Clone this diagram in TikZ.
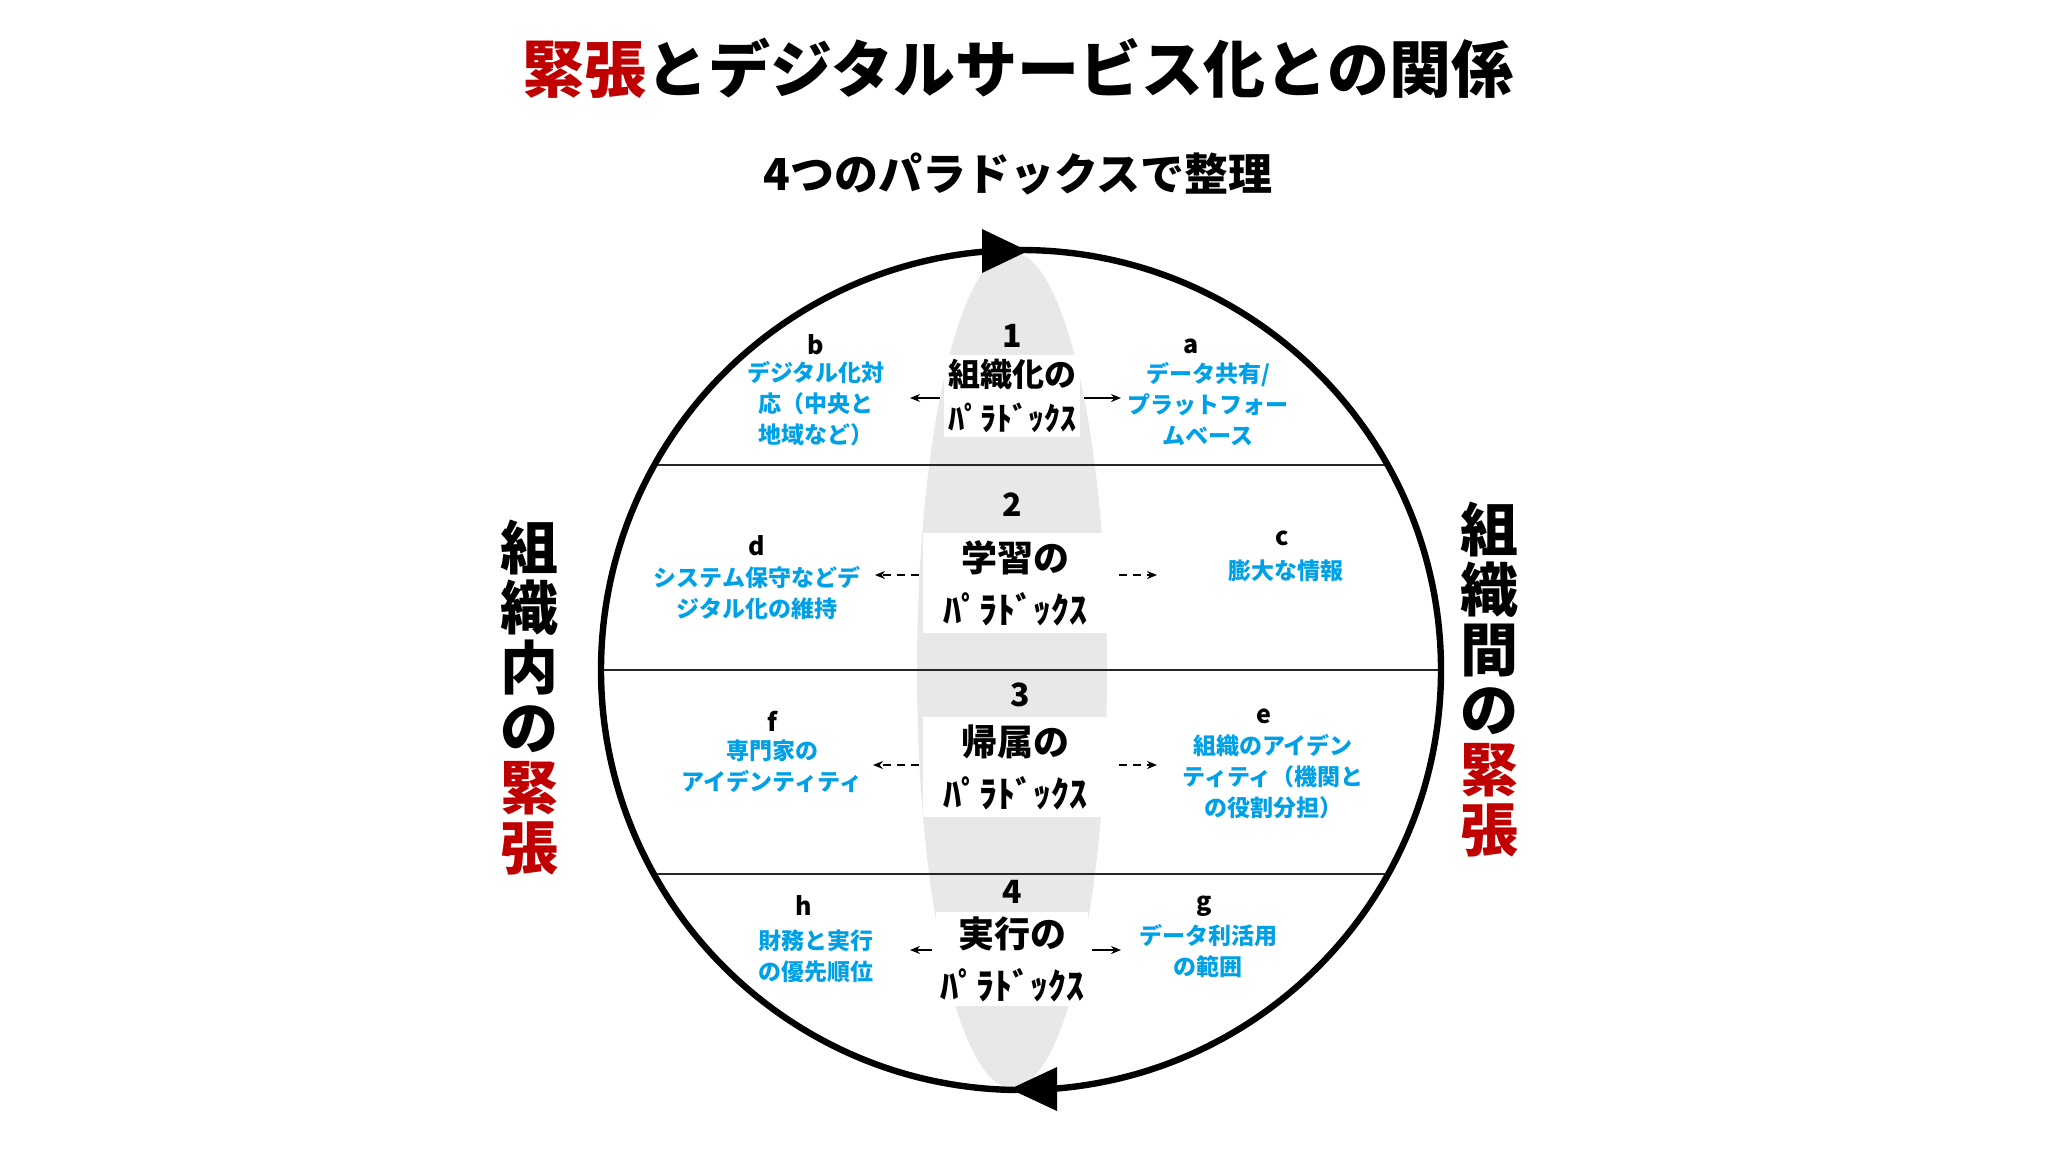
\documentclass[tikz,border=0pt]{standalone}
\usepackage{fontspec}
\newfontfamily\jp{Noto Sans CJK JP}
\usetikzlibrary{arrows.meta}
\definecolor{blu}{RGB}{0,160,230}
\definecolor{rd}{RGB}{192,0,0}
\tikzset{
 bl/.style={font=\jp\bfseries\fontsize{11.5pt}{15.5pt}\selectfont, text=blu, align=center, inner sep=1pt},
 let/.style={font=\jp\bfseries\fontsize{12.5pt}{13pt}\selectfont, inner sep=0pt},
 num/.style={font=\jp\bfseries\fontsize{16pt}{18pt}\selectfont, inner sep=0pt},
 box/.style={fill=white, align=center, inner sep=2pt, font=\jp\bfseries\fontsize{16pt}{22pt}\selectfont},
 ar/.style={-{Stealth[length=5pt,width=4pt]}, line width=0.8pt},
 dar/.style={ar, dash pattern=on 4pt off 3pt},
 side/.style={font=\jp\bfseries\fontsize{29pt}{30pt}\selectfont, align=center, inner sep=0pt}
}
\begin{document}
\begin{tikzpicture}[x=0.5pt,y=-0.5pt]
\useasboundingbox (0,0) rectangle (2048,1152);
% titles
\node[font=\jp\bfseries\fontsize{31pt}{34pt}\selectfont] (title) at (1018,68) {\textcolor{rd}{緊張}とデジタルサービス化との関係};
\node[font=\jp\bfseries\fontsize{22pt}{24pt}\selectfont] (sub) at (1018,174) {4つのパラドックスで整理};
% gray ellipse
\fill[gray!18] (1012,670) ellipse [x radius=95, y radius=418];
% horizontal lines (chords)
\draw[line width=1pt, gray!30!black] (654.4,465) -- (1387.6,465);
\draw[line width=1pt, gray!30!black] (601,670) -- (1441,670);
\draw[line width=1pt, gray!30!black] (654,874) -- (1388,874);
% circle
\draw[line width=3.2pt] (1021,670) circle [radius=420];
\fill (1028,251) -- (982,229) -- (982,273) -- cycle;
\fill (1010,1089) -- (1057,1067) -- (1057,1111) -- cycle;
% side labels
\node[side] (L) at (529,698) {組\\織\\内\\の\\\textcolor{rd}{緊}\\\textcolor{rd}{張}};
\node[side] (R) at (1489,680) {組\\織\\間\\の\\\textcolor{rd}{緊}\\\textcolor{rd}{張}};
% center boxes
\node[num] (n1) at (1012,336) {1};
\node[box] (p1) at (1012,396) {組織化の\\ﾊﾟﾗﾄﾞｯｸｽ};
\node[num] (n2) at (1012,505) {2};
\node[box, font=\jp\bfseries\fontsize{18pt}{26pt}\selectfont, minimum width=92pt, minimum height=50pt] (p2) at (1015,583) {学習の\\ﾊﾟﾗﾄﾞｯｸｽ};
\node[num] (n3) at (1020,695) {3};
\node[box, font=\jp\bfseries\fontsize{18pt}{26pt}\selectfont, minimum width=92pt, minimum height=50pt] (p3) at (1015,767) {帰属の\\ﾊﾟﾗﾄﾞｯｸｽ};
\node[num] (n4) at (1012,892) {4};
\node[box, font=\jp\bfseries\fontsize{18pt}{26pt}\selectfont] (p4) at (1012,959) {実行の\\ﾊﾟﾗﾄﾞｯｸｽ};
% letters and blue text
\node[let] (lb) at (816,345) {b};
\node[bl] (tb) at (816,404) {デジタル化対\\応（中央と\\地域など）};
\node[let] (la) at (1191,346) {a};
\node[bl] (ta) at (1208,404) {データ共有/\\プラットフォー\\ムベース};
\node[let] (ld) at (757,546) {d};
\node[bl] (td) at (757,593) {システム保守などデ\\ジタル化の維持};
\node[let] (lc) at (1282,538) {c};
\node[bl] (tc) at (1286,571) {膨大な情報};
\node[let] (lf) at (772,721) {f};
\node[bl] (tf) at (772,766) {専門家の\\アイデンティティ};
\node[let] (le) at (1264,716) {e};
\node[bl] (te) at (1273,777) {組織のアイデン\\ティティ（機関と\\の役割分担）};
\node[let] (lh) at (804,905) {h};
\node[bl] (th) at (816,956) {財務と実行\\の優先順位};
\node[let] (lg) at (1204,906) {g};
\node[bl] (tg) at (1208,951) {データ利活用\\の範囲};
% arrows
\coordinate (a1l) at (910,398); \coordinate (a1r) at (1121,398);
\coordinate (a2l) at (875,575); \coordinate (a2r) at (1157,575);
\coordinate (a3l) at (873,765); \coordinate (a3r) at (1157,765);
\coordinate (a4l) at (910,950); \coordinate (a4r) at (1121,950);
\draw[ar] (p1.west|-a1l) ++(-4,0) -- (a1l);
\draw[ar] (p1.east|-a1r) ++(4,0) -- (a1r);
\draw[dar] (p2.west|-a2l) ++(-4,0) -- (a2l);
\draw[dar] (p2.east|-a2r) ++(12,0) -- (a2r);
\draw[dar] (p3.west|-a3l) ++(-4,0) -- (a3l);
\draw[dar] (p3.east|-a3r) ++(12,0) -- (a3r);
\draw[ar] (p4.west|-a4l) ++(-4,0) -- (a4l);
\draw[ar] (p4.east|-a4r) ++(4,0) -- (a4r);
\end{tikzpicture}
\end{document}
